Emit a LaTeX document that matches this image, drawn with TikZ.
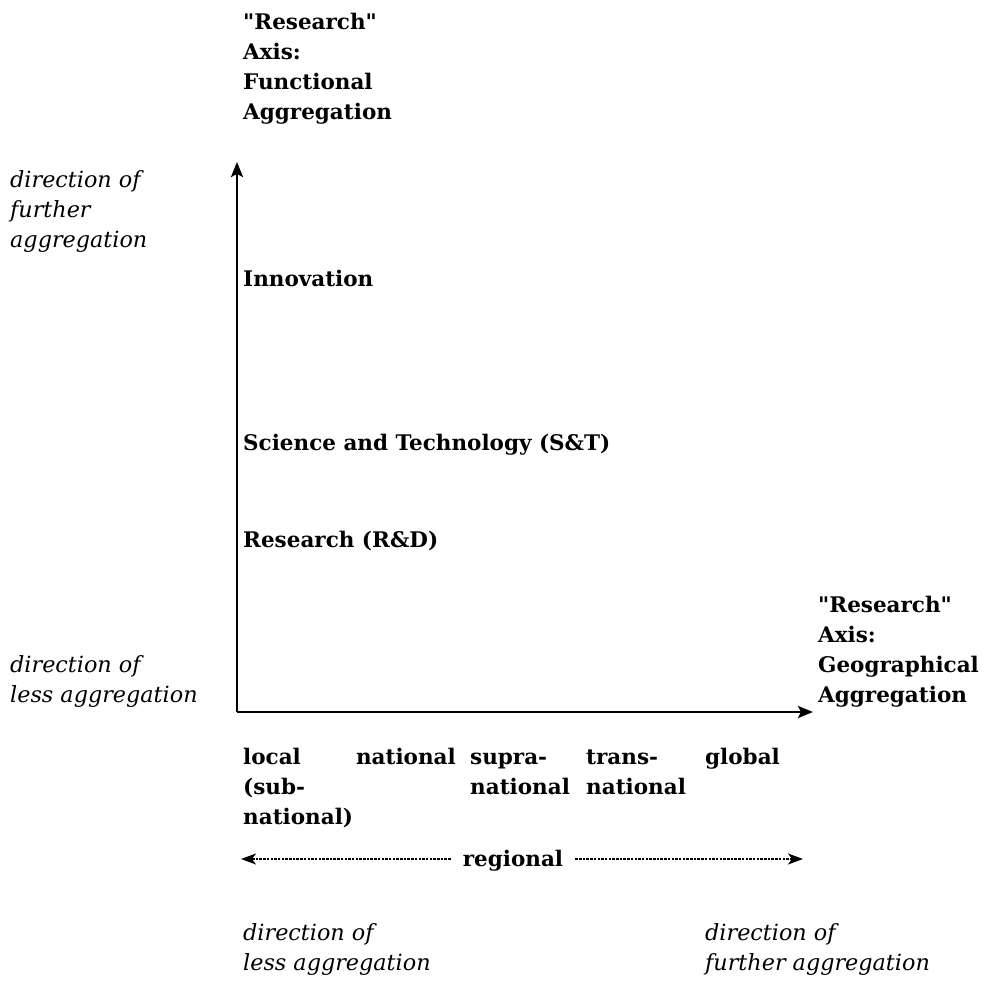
\documentclass[tikz,border=0pt]{standalone}
\usepackage{fontspec}
\setmainfont{DejaVu Serif}
\usetikzlibrary{arrows.meta}
\tikzset{
  lbl/.style={inner sep=0pt, anchor=base west, align=left, font=\bfseries\fontsize{21.5}{30}\selectfont},
  ital/.style={inner sep=0pt, anchor=base west, align=left, font=\itshape\fontsize{22.3}{30}\selectfont},
  axis/.style={line width=2.5pt, -{Stealth[length=15pt,width=12pt,inset=3pt]}},
  dotarrow/.style={line width=1.4pt, dash pattern=on 2.5pt off 1.2pt, -{Stealth[length=15pt,width=11pt,inset=4pt]}}
}
\newcommand{\qq}{\textquotedbl}
\begin{document}
\begin{tikzpicture}[x=1pt,y=-1pt]
\useasboundingbox (0,0) rectangle (985,989);
\coordinate (o) at (237,712);
\coordinate (ytip) at (237,162);
\coordinate (xtip) at (813,712);
\draw[axis] (o) -- (ytip);
\draw[axis] (o) -- (xtip);

% multi-line nodes: base anchor sits on the last line
\node[lbl] (ftitle) at (243,119) {\qq Research\qq\\Axis:\\Functional\\Aggregation};
\node[ital] (fup) at (10,247) {direction of\\further\\aggregation};
\node[lbl] (inno) at (243,286) {Innovation};
\node[lbl] (st) at (243,450) {Science and Technology (S\&T)};
\node[lbl] (rd) at (243,547) {Research (R\&D)};
\node[lbl] (gtitle) at (818,702) {\qq Research\qq\\Axis:\\Geographical\\Aggregation};
\node[ital] (fdown) at (10,702) {direction of\\less aggregation};

\node[lbl] (local) at (243,824) {local\\(sub-\\national)};
\node[lbl, anchor=base east] (nat) at (456,764) {national};
\node[lbl] (supra) at (470,794) {supra-\\national};
\node[lbl] (trans) at (586,794) {trans-\\national};
\node[lbl] (glob) at (705,764) {global};

\node[lbl, anchor=base] (reg) at (513,866) {regional};
\coordinate (lend) at (241,859);
\coordinate (rend) at (803,859);
\draw[dotarrow] (reg.west |- 0,859) ++(-12,0) -- (lend);
\draw[dotarrow] (reg.east |- 0,859) ++(12,0) -- (rend);

\node[ital] (bl) at (243,970) {direction of\\less aggregation};
\node[ital] (br) at (705,970) {direction of\\further aggregation};
\end{tikzpicture}
\end{document}
